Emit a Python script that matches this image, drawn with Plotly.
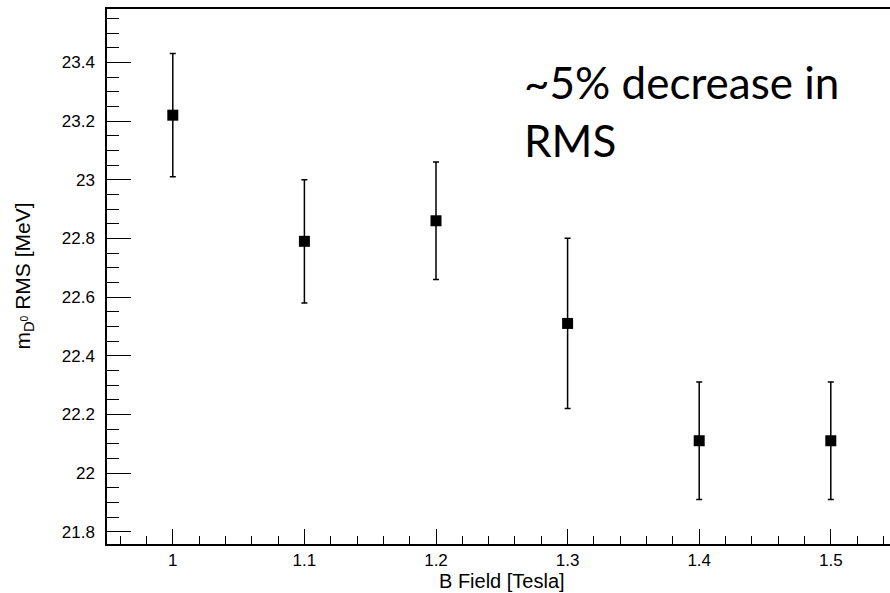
import plotly.graph_objects as go

# Data
b_field = [1.0, 1.1, 1.2, 1.3, 1.4, 1.5]
rms_mev = [23.22, 22.79, 22.86, 22.51, 22.11, 22.11]
rms_err = [0.21, 0.21, 0.20, 0.29, 0.20, 0.20]

x_ticks = [1.0, 1.1, 1.2, 1.3, 1.4, 1.5]
x_tick_labels = ["1", "1.1", "1.2", "1.3", "1.4", "1.5"]
y_ticks = [21.8, 22.0, 22.2, 22.4, 22.6, 22.8, 23.0, 23.2, 23.4]
y_tick_labels = ["21.8", "22", "22.2", "22.4", "22.6", "22.8", "23", "23.2", "23.4"]

W, H = 890, 593
L, R, T, B = 107, 0, 9, 49
pw = W - L - R
ph = H - T - B

fig = go.Figure()
fig.add_trace(go.Scatter(
    x=b_field, y=rms_mev, mode="markers",
    marker=dict(symbol="square", size=11, color="black"),
    error_y=dict(type="data", array=rms_err, visible=True,
                 color="black", thickness=1.5, width=3),
    showlegend=False,
))

axis_font = dict(family="Liberation Sans, Arial, sans-serif", size=17, color="black")

fig.update_layout(
    width=W, height=H,
    margin=dict(l=L, r=R, t=T, b=B, pad=0),
    paper_bgcolor="white", plot_bgcolor="white",
    xaxis=dict(
        range=[0.95, 0.95 + pw / 1316.0],
        tickvals=x_ticks, ticktext=x_tick_labels,
        ticks="inside", ticklen=15, tickwidth=1.2, tickcolor="black",
        minor=dict(dtick=0.02, tick0=1.0, ticks="inside", ticklen=8,
                   tickwidth=1.2, tickcolor="black", showgrid=False),
        showline=True, linecolor="black", linewidth=1.5, mirror=True,
        showgrid=False, zeroline=False,
        tickfont=axis_font,
    ),
    yaxis=dict(
        range=[21.758, 23.582],
        tickvals=y_ticks, ticktext=y_tick_labels,
        ticks="inside", ticklen=24, tickwidth=1.2, tickcolor="black",
        minor=dict(dtick=0.05, tick0=21.8, ticks="inside", ticklen=12,
                   tickwidth=1.2, tickcolor="black", showgrid=False),
        showline=True, linecolor="black", linewidth=1.5, mirror=False,
        showgrid=False, zeroline=False,
        tickfont=axis_font, ticklabelstandoff=7,
    ),
)

# Axis titles
fig.add_annotation(
    text="B Field [Tesla]", xref="paper", yref="paper",
    x=(502 - L) / pw, y=-(581 - (H - B)) / ph,
    xanchor="center", yanchor="middle", showarrow=False,
    font=dict(family="Liberation Sans, Arial, sans-serif", size=20, color="black"),
)
fig.add_annotation(
    text="m<sub>D<sup>0</sup></sub> RMS [MeV]", xref="paper", yref="paper",
    x=(23 - L) / pw, y=0.5, textangle=-90,
    xanchor="center", yanchor="middle", showarrow=False,
    font=dict(family="Liberation Sans, Arial, sans-serif", size=21, color="black"),
)

# Slide annotation
ann_font = dict(family="Lato, 'Open Sans', sans-serif", size=44, color="black")
fig.add_annotation(
    text="~5% decrease in", xref="paper", yref="paper",
    x=(522 - L) / pw, y=1 - (82 - T) / ph,
    xanchor="left", yanchor="middle", showarrow=False, font=ann_font,
)
fig.add_annotation(
    text="RMS", xref="paper", yref="paper",
    x=(522 - L) / pw, y=1 - (140 - T) / ph,
    xanchor="left", yanchor="middle", showarrow=False, font=ann_font,
)

fig.write_html("out.html")
